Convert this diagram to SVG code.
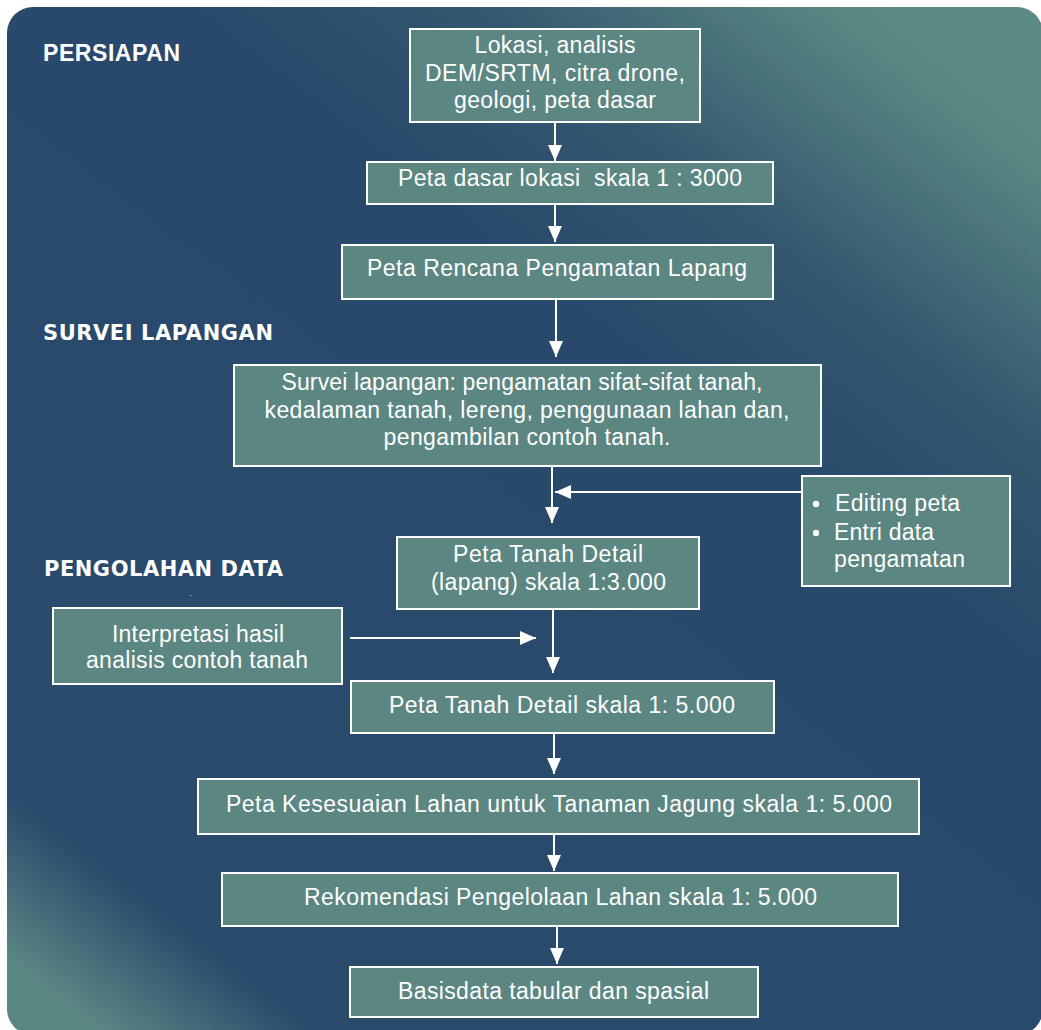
<svg xmlns="http://www.w3.org/2000/svg" width="1041" height="1030" viewBox="0 0 1041 1030">
<defs>
<linearGradient id="bg" gradientUnits="userSpaceOnUse" x1="100" y1="1030" x2="900" y2="0">
<stop offset="0" stop-color="#5a8683"/>
<stop offset="0.1" stop-color="#2a4b6c"/>
<stop offset="0.66" stop-color="#28496b"/>
<stop offset="0.8" stop-color="#35586f"/>
<stop offset="0.88" stop-color="#467079"/>
<stop offset="0.97" stop-color="#5b8883"/>
<stop offset="1" stop-color="#5c8a85"/>
</linearGradient>
<marker id="ah" markerUnits="userSpaceOnUse" markerWidth="16" markerHeight="14" viewBox="0 0 16 14" refX="16" refY="7" orient="auto">
<path d="M0,0 L16,7 L0,14 z" fill="#ffffff"/>
</marker>
<style>
.box{fill:#5b8682;stroke:#ffffff;stroke-width:2}
.t{fill:#ffffff;font-family:"Liberation Sans",Arial,sans-serif;font-size:23px;text-anchor:middle}
.tl{fill:#ffffff;font-family:"Liberation Sans",Arial,sans-serif;font-size:23px}
.h1{fill:#ffffff;font-family:"Liberation Sans",Arial,sans-serif;font-size:23px;font-weight:bold}
.h2{fill:#ffffff;font-family:"DejaVu Sans",Verdana,sans-serif;font-size:21px;font-weight:bold}
.c{stroke:#ffffff;stroke-width:2;fill:none;marker-end:url(#ah)}
</style>
</defs>
<rect x="7" y="7" width="1036" height="1028" rx="26" ry="26" fill="url(#bg)"/>

<g id="headers">
<text class="h1" x="43" y="61" textLength="137">PERSIAPAN</text>
<text class="h2" x="43" y="340" textLength="230">SURVEI LAPANGAN</text>
<text class="h2" x="44" y="576" textLength="239">PENGOLAHAN DATA</text>
<text x="190" y="596" fill="#ffffff" font-family="Liberation Sans, sans-serif" font-size="8">.</text>
</g>

<g id="connectors">
<line class="c" x1="555" y1="122" x2="555" y2="161"/>
<line class="c" x1="555" y1="204" x2="555" y2="242"/>
<line class="c" x1="556" y1="299" x2="556" y2="357"/>
<line class="c" x1="552" y1="466" x2="552" y2="523"/>
<line class="c" x1="802" y1="492" x2="555" y2="492"/>
<line class="c" x1="553" y1="609" x2="553" y2="673"/>
<line class="c" x1="350" y1="638" x2="536" y2="638"/>
<line class="c" x1="554" y1="733" x2="554" y2="774"/>
<line class="c" x1="554" y1="834" x2="554" y2="871"/>
<line class="c" x1="557" y1="926" x2="557" y2="964"/>
</g>

<g id="n1">
<rect class="box" x="410" y="29" width="290" height="93"/>
<text class="t" x="555" y="53" textLength="161">Lokasi, analisis</text>
<text class="t" x="555" y="81" textLength="260">DEM/SRTM, citra drone,</text>
<text class="t" x="555" y="108" textLength="202">geologi, peta dasar</text>
</g>

<g id="n2">
<rect class="box" x="367" y="162" width="406" height="42"/>
<text class="t" x="570" y="186" textLength="344" xml:space="preserve">Peta dasar lokasi  skala 1 : 3000</text>
</g>

<g id="n3">
<rect class="box" x="342" y="245" width="431" height="54"/>
<text class="t" x="557" y="276" textLength="380">Peta Rencana Pengamatan Lapang</text>
</g>

<g id="n4">
<rect class="box" x="234" y="365" width="587" height="101"/>
<text class="t" x="522" y="390" textLength="481">Survei lapangan: pengamatan sifat-sifat tanah,</text>
<text class="t" x="527" y="418" textLength="525">kedalaman tanah, lereng, penggunaan lahan dan,</text>
<text class="t" x="527" y="445" textLength="287">pengambilan contoh tanah.</text>
</g>

<g id="n5">
<rect class="box" x="802" y="476" width="208" height="110"/>
<circle cx="816" cy="504" r="3.2" fill="#ffffff"/>
<circle cx="816" cy="533" r="3.2" fill="#ffffff"/>
<text class="tl" x="835" y="511" textLength="125">Editing peta</text>
<text class="tl" x="834" y="540" textLength="100">Entri data</text>
<text class="tl" x="834" y="567" textLength="131">pengamatan</text>
</g>

<g id="n6">
<rect class="box" x="397" y="537" width="302" height="72"/>
<text class="t" x="548" y="562" textLength="190">Peta Tanah Detail</text>
<text class="t" x="548.5" y="590" textLength="235">(lapang) skala 1:3.000</text>
</g>

<g id="n7">
<rect class="box" x="53" y="608" width="289" height="76"/>
<text class="t" x="198" y="642" textLength="172">Interpretasi hasil</text>
<text class="t" x="197" y="668" textLength="222">analisis contoh tanah</text>
</g>

<g id="n8">
<rect class="box" x="351" y="681" width="423" height="52"/>
<text class="t" x="562" y="713" textLength="346">Peta Tanah Detail skala 1: 5.000</text>
</g>

<g id="n9">
<rect class="box" x="198" y="779" width="721" height="55"/>
<text class="t" x="559" y="812" textLength="666">Peta Kesesuaian Lahan untuk Tanaman Jagung skala 1: 5.000</text>
</g>

<g id="n10">
<rect class="box" x="222" y="873" width="676" height="53"/>
<text class="t" x="560.5" y="905" textLength="513">Rekomendasi Pengelolaan Lahan skala 1: 5.000</text>
</g>

<g id="n11">
<rect class="box" x="350" y="967" width="408" height="50"/>
<text class="t" x="553.5" y="999" textLength="311">Basisdata tabular dan spasial</text>
</g>
</svg>
